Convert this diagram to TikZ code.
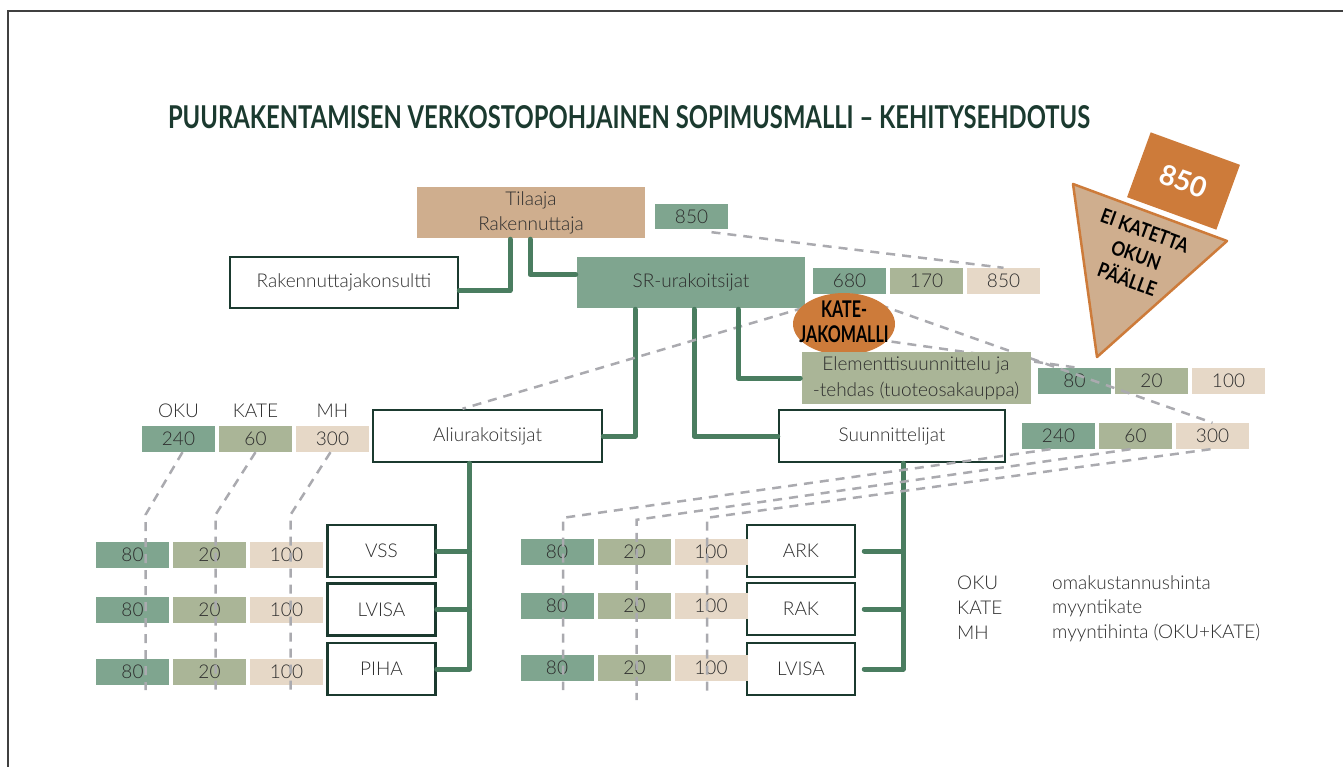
\documentclass[tikz,border=0pt]{standalone}
\usepackage{fontspec}
\setmainfont{Lato Light}[BoldFont={Lato Bold}]
\usepackage{graphicx}
\usetikzlibrary{shapes.geometric}
\definecolor{ndark}{RGB}{27,58,47}
\definecolor{ntext}{RGB}{45,45,45}
\definecolor{nline}{RGB}{74,125,96}
\definecolor{nsr}{RGB}{127,165,143}
\definecolor{nkate}{RGB}{170,181,151}
\definecolor{nmh}{RGB}{230,216,199}
\definecolor{ntan}{RGB}{207,174,142}
\definecolor{norange}{RGB}{205,123,58}
\definecolor{ndash}{RGB}{170,170,175}
\newcommand{\condtxt}[2][0.7]{\scalebox{#1}[1]{#2}}
\tikzset{
  orgbox/.style={draw=ndark,line width=2.5pt,fill=white,minimum width=228pt,
                 minimum height=51pt,inner sep=0pt,text=ntext},
  subbox/.style={orgbox,minimum width=108pt,minimum height=52pt},
  val/.style={minimum width=73pt,minimum height=26pt,inner sep=0pt,text=ntext},
  oku/.style={val,fill=nsr},
  kate/.style={val,fill=nkate},
  mh/.style={val,fill=nmh},
  conn/.style={nline,line width=5pt,line cap=round,line join=round},
  dashln/.style={ndash,line width=2.5pt,dash pattern=on 9pt off 7pt},
  legend/.style={anchor=west,text=ntext,inner sep=0pt}
}
\begin{document}
\begin{tikzpicture}[x=1pt,y=-1pt,font=\fontsize{19}{25}\selectfont]
  \useasboundingbox (0,0) rectangle (1343,767);
  %% frame
  \draw[line width=1.5pt,black!75] (8,767) -- (8,11) -- (1343,11);

  %% title
  \node[text=ndark] (title) at (629,117)
    {\resizebox{922pt}{23pt}{\bfseries PUURAKENTAMISEN VERKOSTOPOHJAINEN SOPIMUSMALLI – KEHITYSEHDOTUS}};

  %% top level
  \node[orgbox,fill=ntan,draw=none,align=center] (tilaaja) at (531,212.5) {Tilaaja\\Rakennuttaja};
  \node[oku,minimum height=25pt] (t850) at (691.5,216.5) {850};
  \node[orgbox] (konsultti) at (344,282.5) {Rakennuttajakonsultti};
  \node[orgbox,fill=nsr,draw=none] (sr) at (691,282.5) {SR-urakoitsijat};
  \node[oku] (s680) at (849.5,281) {680};
  \node[kate] (s170) at (926.5,281) {170};
  \node[mh] (s850) at (1003.5,281) {850};

  %% element row values
  \node[oku] (eo) at (1074.5,380.5) {80};
  \node[kate] (ek) at (1151.5,380.5) {20};
  \node[mh] (em) at (1228.5,380.5) {100};

  %% second level
  \node[orgbox,minimum width=229pt,minimum height=52pt] (ali) at (487.5,436) {Aliurakoitsijat};
  \node[orgbox,minimum width=226pt,minimum height=52pt] (suun) at (892,436) {Suunnittelijat};
  \node[text=ntext] (hoku) at (178.5,411) {OKU};
  \node[text=ntext] (hkate) at (255.5,411) {KATE};
  \node[text=ntext] (hmh) at (332.5,411) {MH};
  \node[oku] (ao) at (178.5,439) {240};
  \node[kate] (ak) at (255.5,439) {60};
  \node[mh] (am) at (332.5,439) {300};
  \node[oku] (so) at (1058.5,436) {240};
  \node[kate] (sk) at (1135.5,436) {60};
  \node[mh] (sm) at (1212.5,436) {300};

  %% third level
  \node[subbox] (vss) at (381.5,551) {VSS};
  \node[subbox] (lvisa) at (381.5,609.5) {LVISA};
  \node[subbox] (piha) at (381.5,669) {PIHA};
  \node[subbox] (ark) at (801,551) {ARK};
  \node[subbox] (rak) at (801,609) {RAK};
  \node[subbox] (lvisb) at (801,669) {LVISA};
  \foreach \y/\n in {555/1,610/2,672/3} {
    \node[oku] (lo\n) at (132.5,\y) {80};
    \node[kate] (lk\n) at (209.5,\y) {20};
    \node[mh] (lm\n) at (286.5,\y) {100};
  }
  \foreach \y/\n in {552/1,606/2,668/3} {
    \node[oku] (ro\n) at (557,\y) {80};
    \node[kate] (rk\n) at (634.5,\y) {20};
    \node[mh] (rm\n) at (711,\y) {100};
  }

  %% connectors
  \draw[conn] ([xshift=-21pt]tilaaja.south) |- ([yshift=-8pt]konsultti.east);
  \draw[conn] ([xshift=-1pt]tilaaja.south) |- ([yshift=8pt]sr.west);
  \draw[conn] ([xshift=-56pt]sr.south) |- (ali.east);
  \draw[conn] ([xshift=3pt]sr.south) |- (suun.west);
  \coordinate (abus) at ([xshift=-18pt]ali.south);
  \draw[conn] (abus) |- (piha.east);
  \draw[conn] (vss.east) -- (vss.east -| abus);
  \draw[conn] (lvisa.east) -- (lvisa.east -| abus);
  \coordinate (sbus) at ([xshift=11pt]suun.south);
  \draw[conn] (sbus) |- ([xshift=8pt]lvisb.east);
  \draw[conn] ([xshift=8pt]ark.east) -- (ark.east -| sbus);
  \draw[conn] ([xshift=8pt]rak.east) -- (rak.east -| sbus);

  %% dashed value links
  \draw[dashln] ([xshift=20pt,yshift=-3pt]t850.south) -- (s850.north);
  \draw[dashln] (s680.south) -- ([xshift=-25pt]ali.north);
  \draw[dashln] (s680.south) -- (sm.north);
  \draw[dashln] (844,335) -- (eo.north);
  \draw[dashln] ([xshift=4pt]ao.south) -- ([xshift=13pt,yshift=27pt]lo1.north) -- ([xshift=13pt,yshift=-5pt]lo3.south);
  \draw[dashln] (ak.south) -- ([xshift=6pt,yshift=27pt]lk1.north) -- ([xshift=6pt,yshift=-8pt]lk3.south);
  \draw[dashln] ([xshift=-2pt]am.south) -- ([xshift=4pt,yshift=27pt]lm1.north) -- ([xshift=4pt,yshift=-8pt]lm3.south);
  \draw[dashln] ([xshift=-8pt]so.south) -- ([xshift=6pt,yshift=21pt]ro1.north) -- ([xshift=6pt,yshift=-9pt]ro3.south);
  \draw[dashln] ([xshift=-5pt]sk.south) -- ([xshift=2pt,yshift=19pt]rk1.north) -- ([xshift=2pt,yshift=-19pt]rk3.south);
  \draw[dashln] ([xshift=-2pt]sm.south) -- ([xshift=-4pt,yshift=21pt]rm1.north) -- ([xshift=-4pt,yshift=-11pt]rm3.south);

  %% kate-jakomalli and element box
  \node[ellipse,fill=norange,minimum width=102pt,minimum height=62pt,inner sep=0pt] (ellip) at (844,324) {};
  \node[font=\bfseries\fontsize{23}{25}\selectfont,align=center,text=black] (ellipt) at (844,322)
    {\condtxt{KATE-}\\\condtxt{JAKOMALLI}};
  \node[orgbox,fill=nkate,draw=none,align=center,minimum width=229pt,minimum height=52pt,
        font=\fontsize{19}{26}\selectfont] (elem) at (916,378)
    {Elementtisuunnittelu ja\\-tehdas (tuoteosakauppa)};
  \draw[conn] ([xshift=47pt]sr.south) |- (elem.west);

  %% no margin on top of OKU
  \fill[ntan,draw=norange,line width=2.5pt,line join=round] (1073,184) -- (1227,241) -- (1097,357) -- cycle;
  \node[fill=norange,rotate=-20,minimum width=95pt,minimum height=69pt,inner sep=0pt,
        text=white,font=\bfseries\fontsize{28}{30}\selectfont] (p850) at (1183.5,181) {850};
  \node[rotate=-20,align=center,text=black,font=\bfseries\fontsize{20}{26}\selectfont] (eikate) at (1136,255)
    {\condtxt[0.85]{EI KATETTA}\\\condtxt[0.85]{OKUN}\\\condtxt[0.85]{PÄÄLLE}};

  %% legend
  \foreach \y/\k/\t [count=\i] in {583/OKU/omakustannushinta,608/KATE/myyntikate,633/MH/myyntihinta (OKU+KATE)} {
    \node[legend] (lk\i) at (957,\y) {\k};
    \node[legend] (lt\i) at (1052,\y) {\t};
  }
\end{tikzpicture}
\end{document}
